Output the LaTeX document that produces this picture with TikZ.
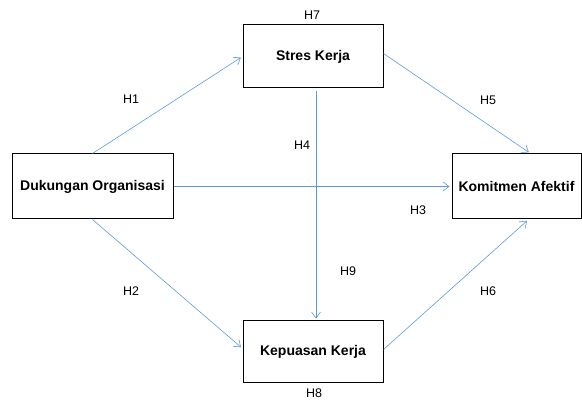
\documentclass[tikz,border=0pt]{standalone}
\usepackage{fontspec}
\setmainfont{Liberation Sans}
\usepackage{xcolor}
\usepackage{tikz}
\usetikzlibrary{shapes,arrows.meta,positioning}

\definecolor{linkblue}{RGB}{91,155,213}

\begin{document}
\begin{tikzpicture}[
        x=1pt, y=-1pt,
        varbox/.style={
            draw=black,
            line width=1pt,
            fill=white,
            font=\fontsize{14}{16}\selectfont\bfseries,
            inner sep=0pt
        },
        hlabel/.style={
            font=\fontsize{12.5}{14}\selectfont,
            inner sep=0pt
        },
        link/.style={
            -{Straight Barb[length=6pt,width=9pt]},
            draw=linkblue,
            line width=0.6pt,
            shorten >=2pt
        }
    ]
                \useasboundingbox (0,0) rectangle (582,401);

                % variables
                \node[varbox, minimum width=161pt, minimum height=65pt] (dukungan) at (92.5,186.5) {Dukungan Organisasi};
                \node[varbox, minimum width=140pt, minimum height=63pt] (stres) at (313,56.5) {Stres Kerja};
                \node[varbox, minimum width=129pt, minimum height=65pt] (komitmen) at (516.5,186.5) {Komitmen Afektif};
                \node[varbox, minimum width=140pt, minimum height=61pt] (kepuasan) at (313,351.5) {Kepuasan Kerja};

                % paths
                \draw[link] (dukungan.north) to (stres.west);
                \draw[link] (dukungan.south) to ([yshift=3pt]kepuasan.west);
                \draw[link] (dukungan.east) to (komitmen.west);
                \draw[link, shorten <=3pt] ([xshift=3pt]stres.south) to ([xshift=3pt]kepuasan.north);
                \draw[link] ([yshift=3pt]stres.east) to ([xshift=14pt]komitmen.north);
                \draw[link] ([yshift=2pt]kepuasan.east) to ([xshift=12pt]komitmen.south);

                % hypotheses
                \node[hlabel] (h1) at (131,99) {H1};
                \node[hlabel] (h2) at (131,291) {H2};
                \node[hlabel] (h3) at (418,210) {H3};
                \node[hlabel] (h4) at (302,145) {H4};
                \node[hlabel] (h5) at (488,100) {H5};
                \node[hlabel] (h6) at (488,291) {H6};
                \node[hlabel] (h7) at (312,15) {H7};
                \node[hlabel] (h8) at (314,393) {H8};
                \node[hlabel] (h9) at (348,271) {H9};

\end{tikzpicture}
\end{document}
